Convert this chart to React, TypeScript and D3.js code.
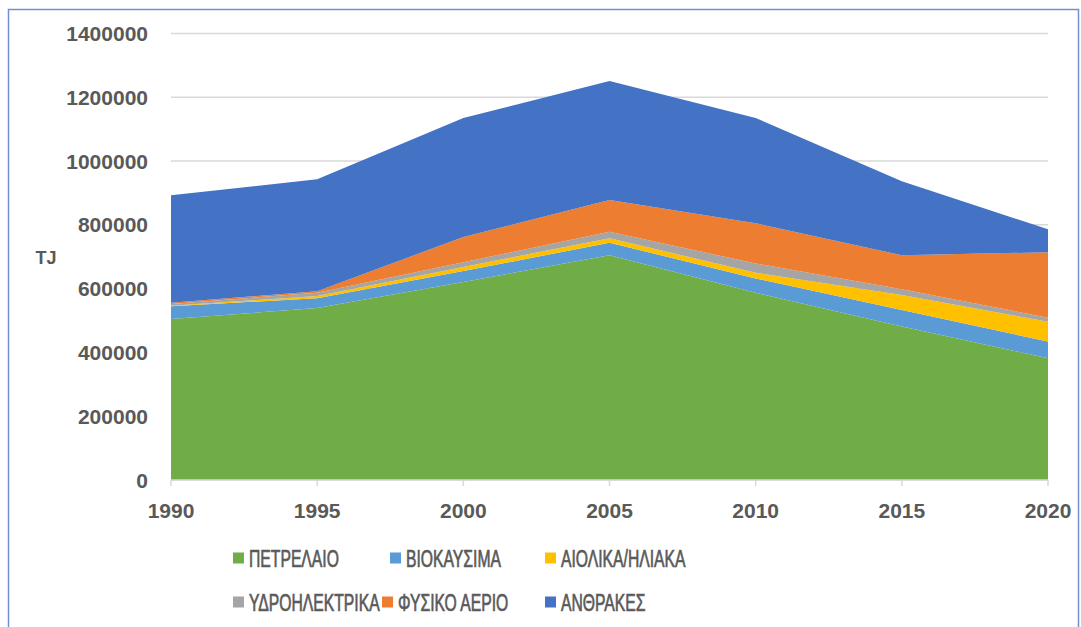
import React from "react";
import * as d3 from "d3";

const years = [1990, 1995, 2000, 2005, 2010, 2015, 2020];
const oil = [505000, 539000, 621000, 705000, 587000, 481000, 382000];
const biofuels = [40000, 31000, 34000, 39000, 45000, 52000, 52000];
const windSolar = [1000, 7000, 13000, 14000, 18000, 47000, 62000];
const hydro = [6000, 10000, 15000, 20000, 29000, 18000, 13000];
const naturalGas = [4000, 5000, 79000, 100000, 126000, 107000, 205000];
const coal = [337000, 351000, 373000, 373000, 330000, 232000, 72000];

const seriesNames = ["ΠΕΤΡΕΛΑΙΟ", "ΒΙΟΚΑΥΣΙΜΑ", "ΑΙΟΛΙΚΑ/ΗΛΙΑΚΑ", "ΥΔΡΟΗΛΕΚΤΡΙΚΑ", "ΦΥΣΙΚΟ ΑΕΡΙΟ", "ΑΝΘΡΑΚΕΣ"];
const seriesValues = [oil, biofuels, windSolar, hydro, naturalGas, coal];
const seriesColors = ["#70AD47", "#5B9BD5", "#FFC000", "#A5A5A5", "#ED7D31", "#4472C4"];
const yTicks = [0, 200000, 400000, 600000, 800000, 1000000, 1200000, 1400000];
const yLabel = "TJ";

const W = 1081;
const H = 627;
const left = 171;
const right = 1048;
const top = 33.5;
const bottom = 480;

// legend layout: rows of item indices with column x positions
const legendRows = [
  { y: 558, items: [0, 1, 2], xs: [233, 390, 545] },
  { y: 602, items: [3, 4, 5], xs: [233, 382, 545] },
];

export default function App() {
  const x = d3.scaleLinear().domain([1990, 2020]).range([left, right]);
  const y = d3.scaleLinear().domain([0, 1400000]).range([bottom, top]);

  const table = years.map((yr, i) => {
    const row: any = { year: yr };
    seriesNames.forEach((n, k) => (row[n] = seriesValues[k][i]));
    return row;
  });
  const stacked = d3.stack<any>().keys(seriesNames)(table);
  const area = d3
    .area<any>()
    .x((d) => x(d.data.year))
    .y0((d) => y(d[0]))
    .y1((d) => y(d[1]));

  const font = "'Liberation Sans', Arial, sans-serif";
  const textColor = "#595959";

  return (
    <svg width={W} height={H} style={{ position: "absolute", left: 0, top: 0, background: "#fff" }}>
      <rect x={0} y={0} width={W} height={H} fill="#fff" />
      <rect x={8.5} y={9.5} width={1070} height={640} fill="none" stroke="#6f8fd6" strokeWidth={1.5} />
      {yTicks.map((t) => (
        <line key={t} x1={left} x2={right} y1={y(t)} y2={y(t)} stroke="#d9d9d9" strokeWidth={1.5} />
      ))}
      {stacked.map((s, k) => (
        <path key={s.key} d={area(s) || ""} fill={seriesColors[k]} />
      ))}
      <line x1={left} x2={right} y1={bottom} y2={bottom} stroke="#d9d9d9" strokeWidth={1.5} />
      {years.map((yr) => (
        <line key={yr} x1={x(yr)} x2={x(yr)} y1={bottom} y2={bottom + 6} stroke="#d9d9d9" strokeWidth={1.5} />
      ))}
      {yTicks.map((t) => (
        <text
          key={t}
          x={148}
          y={y(t)}
          dy="0.36em"
          textAnchor="end"
          fontFamily={font}
          fontSize={21}
          fontWeight="bold"
          fill={textColor}
        >
          {t}
        </text>
      ))}
      {years.map((yr) => (
        <text
          key={yr}
          x={x(yr)}
          y={510}
          dy="0.36em"
          textAnchor="middle"
          fontFamily={font}
          fontSize={21}
          fontWeight="bold"
          fill={textColor}
        >
          {yr}
        </text>
      ))}
      <text x={46} y={258} dy="0.36em" textAnchor="middle" fontFamily={font} fontSize={18} fontWeight="bold" fill={textColor}>
        {yLabel}
      </text>
      {legendRows.map((row, r) =>
        row.items.map((idx, j) => (
          <g key={`${r}-${j}`} transform={`translate(${row.xs[j]},${row.y})`}>
            <rect x={0} y={-5.5} width={11} height={11} fill={seriesColors[idx]} />
            <text
              transform="translate(16,0) scale(0.655,1)"
              dy="0.36em"
              fontFamily={font}
              fontSize={24}
              fill={textColor}
              stroke={textColor}
              strokeWidth={0.7}
            >
              {seriesNames[idx]}
            </text>
          </g>
        ))
      )}
    </svg>
  );
}
